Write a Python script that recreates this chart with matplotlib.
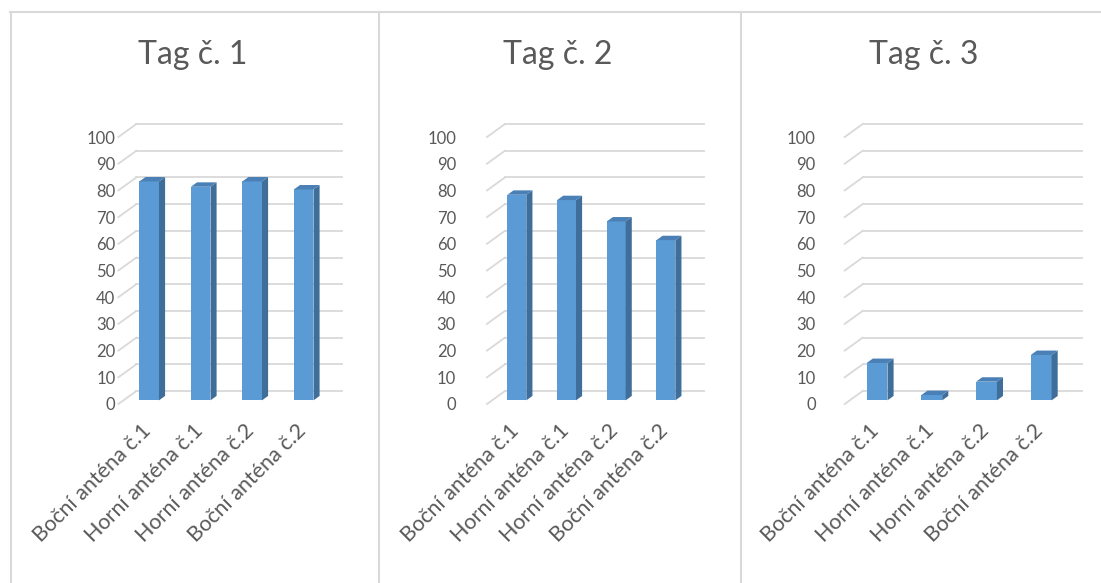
import matplotlib
matplotlib.use("Agg")
import matplotlib.pyplot as plt
from matplotlib.patches import Polygon
from matplotlib.lines import Line2D
from matplotlib.transforms import ScaledTranslation

# ---- data -------------------------------------------------------------
categories = ["Boční anténa č.1", "Horní anténa č.1",
              "Horní anténa č.2", "Boční anténa č.2"]
titles = ["Tag č. 1", "Tag č. 2", "Tag č. 3"]
tag1 = [82, 80, 82, 79]
tag2 = [77, 75, 67, 60]
tag3 = [14, 2, 7, 17]
yticks = list(range(0, 101, 10))

# ---- style ------------------------------------------------------------
plt.rcParams["font.family"] = ["Lato", "DejaVu Sans"]
TEXT = "#595959"
GRID = "#D9D9D9"
FRONT = "#5B9BD5"
SIDE = "#3F6E9B"
TOP = "#4A80B6"

W, H, DPI = 1101, 583, 100
fig = plt.figure(figsize=(W / DPI, H / DPI), dpi=DPI)
fig.patch.set_facecolor("white")

# plot-area layout in pixels (front plane of each 3D plot)
Y_ZERO, Y_TOP = 404, 137            # pixel rows of 0 and 100 on the front plane
DEPTH = (18.0, 13.0)                # floor depth, pixels (right, up)
F0, F1 = 0.28, 0.62                 # bar front/back depth fractions
HALF_W = 0.19                        # bar half width in category units

panels = [
    dict(values=tag1, title=titles[0], left=118.4, right=324.4, tx=193, gap=3),
    dict(values=tag2, title=titles[1], left=487.0, right=685.7, tx=558, gap=31),
    dict(values=tag3, title=titles[2], left=844.7, right=1063.5, tx=924, gap=29),
]

for p in panels:
    left, right = p["left"], p["right"]
    ax = fig.add_axes([left / W, (H - Y_ZERO) / H, (right - left) / W,
                       (Y_ZERO - Y_TOP) / H])
    ax.set_xlim(-0.5, 3.5)
    ax.set_ylim(0, 100)
    ax.patch.set_visible(False)
    for s in ax.spines.values():
        s.set_visible(False)

    # depth offset expressed in data units
    dx = DEPTH[0] * 4.0 / (right - left)
    dy = DEPTH[1] * 100.0 / (Y_ZERO - Y_TOP)

    # back wall gridlines with their floor diagonals
    for t in yticks:
        ax.add_line(Line2D([-0.5, -0.5 + dx], [t, t + dy], color=GRID,
                           lw=1.3, clip_on=False, zorder=1))
        ax.add_line(Line2D([-0.5 + dx, 3.5 + dx], [t + dy, t + dy],
                           color=GRID, lw=1.3, clip_on=False, zorder=1))

    # 3D columns
    b0 = F0 * dy
    ddx, ddy = (F1 - F0) * dx, (F1 - F0) * dy
    xs = [i + F0 * dx for i in range(len(p["values"]))]
    ax.bar(xs, p["values"], width=2 * HALF_W, bottom=b0, color=FRONT,
           zorder=3, clip_on=False)
    for xc, v in zip(xs, p["values"]):
        x0, x1 = xc - HALF_W, xc + HALF_W
        top = b0 + v
        ax.add_patch(Polygon([(x1, b0), (x1 + ddx, b0 + ddy),
                              (x1 + ddx, top + ddy), (x1, top)],
                             closed=True, fc=SIDE, ec="none", zorder=3,
                             clip_on=False))
        ax.add_patch(Polygon([(x0, top), (x1, top), (x1 + ddx, top + ddy),
                              (x0 + ddx, top + ddy)],
                             closed=True, fc=TOP, ec="none", zorder=3,
                             clip_on=False))

    # axes labels
    ax.set_yticks(yticks)
    ax.tick_params(axis="y", length=0, pad=p["gap"] * 72 / DPI,
                   labelsize=12, labelcolor=TEXT)
    ax.set_xticks(range(len(categories)))
    ax.set_xticklabels(categories, rotation=45, ha="right", va="center",
                       rotation_mode="anchor")
    ax.tick_params(axis="x", length=0, pad=17, labelsize=15.5, labelcolor=TEXT)
    shift = ScaledTranslation(4 / DPI, 0, fig.dpi_scale_trans)
    for lab in ax.get_xticklabels():
        lab.set_transform(lab.get_transform() + shift)

    fig.text(p["tx"] / W, 1 - 55 / H, p["title"], ha="center", va="center",
             fontsize=23, color=TEXT)

# chart frames
frame = dict(color=GRID, lw=1.5, transform=fig.transFigure)
yt = 1 - 11.5 / H
fig.add_artist(Line2D([10 / W, 1], [yt, yt], **frame))
for xp in (10.5, 378.5, 740.5):
    fig.add_artist(Line2D([xp / W, xp / W], [0, yt], **frame))

fig.savefig("out.png", dpi=DPI, facecolor="white")
